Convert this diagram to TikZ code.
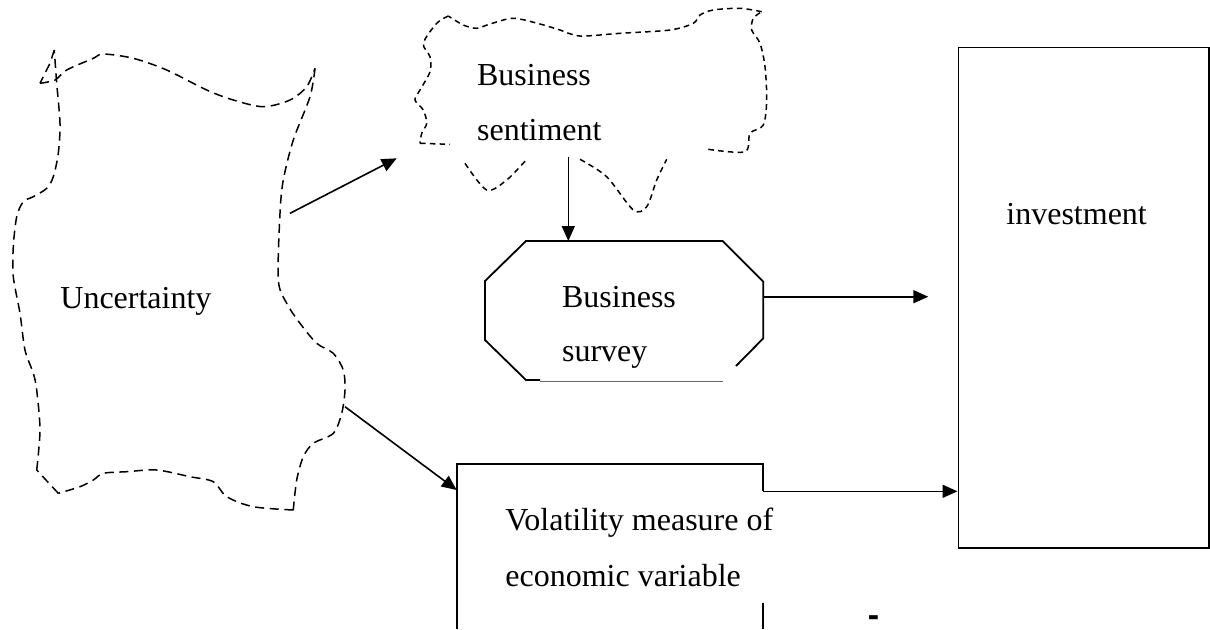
\documentclass[tikz,border=0pt]{standalone}
\usepackage{fontspec}
\setmainfont{Liberation Serif}
\newfontfamily\hyfont{Liberation Sans}
\usetikzlibrary{arrows.meta}
\begin{document}
\begin{tikzpicture}[x=0.5pt,y=-0.5pt,
  txt/.style={anchor=base west, inner sep=0pt, font=\fontsize{16}{19}\selectfont},
  ln/.style={line width=0.8pt},
  arr/.style={ln, -{Triangle[length=7.5pt,width=6.5pt]}},
  cloudL/.style={line width=0.75pt, dash pattern=on 4.5pt off 2.8pt},
  cloudT/.style={line width=0.75pt, dash pattern=on 2.8pt off 2.1pt},
  boxline/.style={line width=0.9pt},
]
\useasboundingbox (0,0) rectangle (1210,629);

% ---------- Uncertainty cloud ----------
\draw[cloudL] plot[smooth, tension=0.5] coordinates {(40,83.3) (55,80) (66.7,70) (93.3,58.3) (103.3,54) (133.3,58.3) (166.7,70) (206.7,90) (233.3,100) (263.3,106.7) (290,100) (306.7,86.7) (315,68.3)};
\draw[cloudL] plot[smooth, tension=0.5] coordinates {(315,68.3) (310,96.7) (293.3,140) (283.3,180) (280,213.3) (278.3,280) (286.7,303.3) (300,323.3) (316.7,343.3) (333.3,353.3) (343.3,370) (345,390) (341.7,413.3) (333.3,433.3) (313.3,443.3) (303.3,456.7) (296.7,480) (293.3,510)};
\draw[cloudL] plot[smooth, tension=0.5] coordinates {(293.3,510) (253.3,506.7) (226.7,496.7) (213.3,481.7) (190,476.7) (156.7,470) (126.7,471.7) (103.3,473.3) (93.3,480) (80,486.7) (58.3,493.3)};
\draw[cloudL] (58.3,493.3) -- (36.7,470);
\draw[cloudL] plot[smooth, tension=0.5] coordinates {(36.7,470) (40,430) (36.7,390) (33.3,373.3) (25,350) (20,313.3) (13.3,276.7) (13.3,246.7) (16.7,216.7) (23.3,201.7) (33.3,196.7) (46.7,188.3) (53.3,176.7) (58.3,153.3) (60,123.3) (56.7,83.3) (54.3,50)};
\draw[cloudL] (54.3,50) -- (50,63.3) -- (40,83.3);
\node[txt] (unc) at (60,308.3) {Uncertainty};
\coordinate (uncA) at (290,213.3);
\coordinate (uncB) at (345,406.7);

% ---------- Business sentiment cloud ----------
\draw[cloudT] (420,143.3) -- (450,144.3);
\draw[cloudT] plot[smooth, tension=0.5] coordinates {(465,163.3) (486.7,190) (506.7,180) (526.7,159.3)};
\draw[cloudT] plot[smooth, tension=0.5] coordinates {(580,159.3) (606.7,176.7) (633.3,210) (646.7,206.7) (656.7,180) (666.7,159.3)};
\draw[cloudT] plot[smooth, tension=0.5] coordinates {(708.3,149.3) (745,151.7) (750,133.3) (763.3,125) (766.7,100) (765,66.7) (760,43.3) (751.7,30) (753.3,18.3) (761.7,11.7)};
\draw[cloudT] plot[smooth, tension=0.5] coordinates {(761.7,11.7) (740,8.3) (713.3,10) (700,15) (693.3,23.3) (670,30) (620,33.3) (580,36) (560,30) (540,24) (513.3,18.3) (490,24) (476.7,28.3) (463.3,25) (448.3,16)};
\draw[cloudT] plot[smooth, tension=0.5] coordinates {(448.3,16) (436.7,23.3) (423.3,43.3) (430,56.7) (430,71.7) (420,90) (415,100) (423.3,110) (426.7,123.3) (421.7,133.3) (420,143.3)};
\node[txt] (sent1) at (476.7,85) {Business};
\node[txt] (sent2) at (476.7,140.7) {sentiment};
\coordinate (sentW) at (396.7,158.3);
\coordinate (sentS) at (568.3,156.7);

% ---------- Business survey octagon ----------
\draw[boxline] (540,380) -- (526,380) -- (485,340) -- (485,281) -- (526,241) -- (722.7,241) -- (763.3,281.7) -- (763.3,338.3) -- (736,366);
\draw[line width=0.5pt, black!60] (540,381) -- (722.7,381);
\node[txt] (surv1) at (561.7,307.3) {Business};
\node[txt] (surv2) at (561.7,361.7) {survey};
\coordinate (octN) at (568.3,241);
\coordinate (octE) at (763.3,296.7);
\coordinate (octEnd) at (928.3,296.7);

% ---------- investment box ----------
\node[draw, boxline, anchor=north west, inner sep=0pt, minimum width=125.25pt, minimum height=250.25pt] (inv) at (957.5,46.5) {};
\node[txt] (invt) at (1006,224) {investment};

% ---------- Volatility box ----------
\draw[boxline] (456.7,629) -- (456.7,464) -- (763.3,464) -- (763.3,491.3);
\draw[boxline] (762.7,602.7) -- (762.7,629);
\node[txt] (vol1) at (505,530.7) {Volatility measure of};
\node[txt] (vol2) at (505,586) {economic variable};
\coordinate (volNW) at (456.7,490);
\coordinate (volE) at (763.3,491.3);

\node[anchor=base, inner sep=0pt, font=\hyfont\bfseries\fontsize{17}{19}\selectfont] (dash) at (873.5,626.5) {-};

% ---------- connectors ----------
\draw[arr] (uncA) -- (sentW);
\draw[arr] (sentS) -- (octN);
\draw[arr] (octE) -- (octEnd);
\draw[arr] (uncB) -- (volNW);
\draw[arr] (volE) -- (inv.west |- volE);
\end{tikzpicture}
\end{document}
